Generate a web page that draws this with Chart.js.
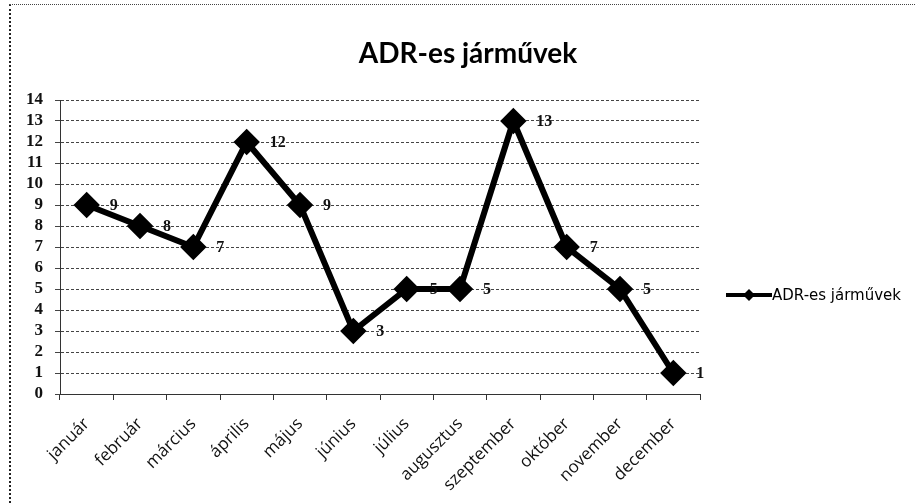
<!DOCTYPE html>
<html>
<head>
<meta charset="utf-8">
<script src="https://cdn.jsdelivr.net/npm/chart.js@4.4.0/dist/chart.umd.min.js"></script>
<style>
html, body { margin: 0; padding: 0; background: #fff; }
#wrap { position: absolute; left: 0; top: 0; width: 915px; height: 504px; }
#frame { position: absolute; left: 9px; top: 4px; width: 930px; height: 530px;
         border-left: 2px dotted #222; border-top: 1px dotted #444; pointer-events: none; }
</style>
</head>
<body>
<div id="wrap"><canvas id="myChart"></canvas></div>
<div id="frame"></div>
<script>
// chart data
const chartTitle = 'ADR-es járművek';
const seriesName = 'ADR-es járművek';
const months = ['január', 'február', 'március', 'április', 'május', 'június',
                'július', 'augusztus', 'szeptember', 'október', 'november', 'december'];
const vehicles = [9, 8, 7, 12, 9, 3, 5, 5, 13, 7, 5, 1];
const yMin = 0;
const yMax = 14;
const yStep = 1;

// value labels next to each point + title + legend drawn by hand
const extras = {
    id: 'extras',
    afterDatasetsDraw(chart) {
        const ctx = chart.ctx;
        const meta = chart.getDatasetMeta(0);
        const values = chart.data.datasets[0].data;
        ctx.save();
        ctx.font = 'bold 16px "Liberation Serif"';
        ctx.fillStyle = '#111';
        ctx.textBaseline = 'middle';
        ctx.textAlign = 'left';
        meta.data.forEach((pt, i) => {
            ctx.fillText(String(values[i]), pt.x + 23, pt.y + 1);
        });
        ctx.restore();
    },
    afterDraw(chart) {
        const ctx = chart.ctx;
        ctx.save();
        // title
        ctx.font = 'bold 28px Lato';
        ctx.fillStyle = '#000';
        ctx.textAlign = 'center';
        ctx.textBaseline = 'alphabetic';
        ctx.fillText(chartTitle, 468, 63);

        // legend
        const ly = 295;
        ctx.strokeStyle = '#000';
        ctx.lineWidth = 4;
        ctx.beginPath();
        ctx.moveTo(726, ly);
        ctx.lineTo(772, ly);
        ctx.stroke();
        ctx.fillStyle = '#000';
        ctx.beginPath();
        ctx.moveTo(749, ly - 6);
        ctx.lineTo(755, ly);
        ctx.lineTo(749, ly + 6);
        ctx.lineTo(743, ly);
        ctx.closePath();
        ctx.fill();
        ctx.font = '15px "DejaVu Sans"';
        ctx.textAlign = 'left';
        ctx.textBaseline = 'middle';
        ctx.fillText(seriesName, 772, ly + 1);
        ctx.restore();
    }
};

const ctx = document.getElementById('myChart').getContext('2d');
const myChart = new Chart(ctx, {
    type: 'line',
    data: {
        labels: months,
        datasets: [{
            label: seriesName,
            data: vehicles,
            borderColor: '#000',
            backgroundColor: '#000',
            borderWidth: 6,
            pointStyle: 'rectRot',
            pointRadius: 9,
            pointBackgroundColor: '#000',
            pointBorderColor: '#000',
            tension: 0
        }]
    },
    options: {
        responsive: true,
        maintainAspectRatio: false,
        animation: false,
        devicePixelRatio: 1,
        layout: { padding: { left: 10, right: 215, top: 100, bottom: 0 } },
        plugins: {
            legend: { display: false },
            title: { display: false },
            tooltip: { enabled: false }
        },
        scales: {
            x: {
                offset: true,
                afterFit(scale) { scale.height = 110; },
                grid: { offset: true, drawOnChartArea: false, drawTicks: true, tickLength: 6, color: '#333' },
                border: { display: true, color: '#333', width: 1 },
                ticks: {
                    color: '#111',
                    font: { family: '"Open Sans"', size: 17 },
                    minRotation: 45,
                    maxRotation: 45,
                    padding: 14
                }
            },
            y: {
                min: yMin,
                max: yMax,
                afterFit(scale) { scale.width = 50; },
                grid: { color: '#444', lineWidth: 1, tickLength: 5 },
                border: { display: true, color: '#333', dash: [3, 2] },
                ticks: {
                    stepSize: yStep,
                    autoSkip: false,
                    color: '#111',
                    font: { family: '"Liberation Serif"', size: 17, weight: 'bold' },
                    padding: 12
                }
            }
        }
    },
    plugins: [extras]
});
</script>
</body>
</html>
